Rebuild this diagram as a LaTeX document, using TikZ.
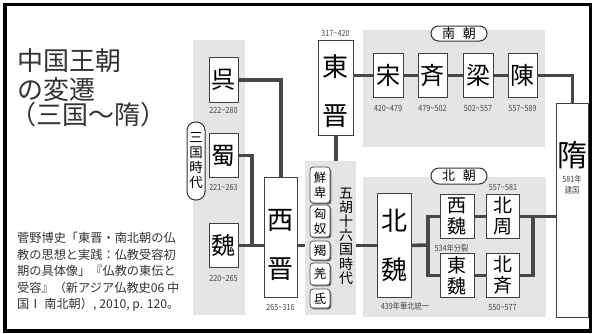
\documentclass[tikz,border=0pt]{standalone}
\usepackage{fontspec}
\usepackage{graphicx}
\setmainfont{Noto Sans CJK JP}
\usetikzlibrary{shadows}
\pgfdeclarelayer{panels}
\pgfdeclarelayer{lines}
\pgfsetlayers{panels,lines,main}
\newcommand\mytil{\textasciitilde}
\newcommand\mycond[1]{\scalebox{0.85}[1]{#1}}
\begin{document}
\begin{tikzpicture}[x=1pt,y=-1pt,
  panel/.style={fill=black!10, draw=none, inner sep=0, anchor=north west},
  box/.style={draw=black!75, line width=0.9pt, fill=white, inner sep=0, anchor=north west, align=center},
  fbig/.style={font=\fontsize{24}{24}\selectfont},
  ftwo/.style={font=\fontsize{26}{49}\selectfont, align=center, inner sep=0},
  fmid/.style={font=\fontsize{19}{21}\selectfont},
  datelbl/.style={font=\fontsize{8.5}{9}\selectfont, text=black!72, inner sep=0},
  pill/.style={draw=black!80, line width=1pt, fill=white, inner sep=0, align=center},
  tribe/.style={draw=black!70, line width=0.8pt, fill=white, rounded corners=3pt, inner sep=0,
    minimum width=20pt, align=center, font=\fontsize{12.5}{15}\selectfont,
    drop shadow={shadow xshift=1.4pt, shadow yshift=-1.4pt, fill=black!60, opacity=1}},
  conn/.style={line width=3.6pt, draw=black!72},
  titletxt/.style={font=\fontsize{26}{26}\selectfont, text=black!80, inner sep=0, anchor=west}
]
\useasboundingbox (0,0) rectangle (592,333);

% panels
\begin{pgfonlayer}{panels}
\fill[white] (0,0) rectangle (592,333);
\node[panel, minimum width=52pt, minimum height=275pt] (p3k) at (193,40) {};
\node[panel, minimum width=51pt, minimum height=154pt] (pwuhu) at (305,161) {};
\node[panel, minimum width=182pt, minimum height=117pt] (pnan) at (363,30) {};
\node[panel, minimum width=183pt, minimum height=140pt] (pbei) at (363,177) {};
\end{pgfonlayer}

% title
\node[titletxt] (t1) at (17,61) {中国王朝};
\node[titletxt] (t2) at (17,90) {の変遷};
\node[titletxt] (t3) at (10,115) {（三国〜隋）};

% citation
\node[anchor=north west, align=left, inner sep=0, text=black!80,
  font=\fontsize{12.2}{16.5}\selectfont] (cite) at (17,232)
  {菅野博史「東晋・南北朝の仏\\教の思想と実践：仏教受容初\\期の具体像」『仏教の東伝と\\受容』（新アジア仏教史06 中\\国Ⅰ 南北朝）, 2010, p. 120。};

% three kingdoms
\node[box, fbig, minimum width=29pt, minimum height=45pt] (wu) at (209,57) {呉};
\node[box, fbig, minimum width=29pt, minimum height=44pt] (shu) at (209,133) {蜀};
\node[box, fbig, minimum width=29pt, minimum height=44pt] (wei) at (209,223) {魏};
\node[datelbl] (dwu) at (223.5,110) {\mycond{222\mytil280}};
\node[datelbl] (dshu) at (223.5,187) {\mycond{221\mytil263}};
\node[datelbl] (dwei) at (223.5,278) {\mycond{220\mytil265}};
\node[pill, rounded corners=8.5pt, minimum width=18pt, minimum height=78pt,
  font=\fontsize{13.5}{15}\selectfont] (sanguo) at (196,161) {三\\国\\時\\代};

% western / eastern jin
\node[box, minimum width=33pt, minimum height=120pt] (xijin) at (264,177) {};
\node[ftwo] (xijint) at (280.5,245) {西\\晋};
\node[datelbl] (dxijin) at (280.5,307) {\mycond{265\mytil316}};
\node[box, minimum width=35pt, minimum height=95pt] (dongjin) at (318,40) {};
\node[ftwo] (dongjint) at (335.5,91) {東\\晋};
\node[datelbl] (ddongjin) at (335.5,33) {\mycond{317\mytil420}};

% five barbarians
\node[tribe, minimum height=36pt] (xianbei) at (320,185) {鮮\\卑};
\node[tribe, minimum height=32pt] (xiongnu) at (320,221) {匈\\奴};
\node[tribe, minimum height=19pt] (jie) at (320,250.5) {羯};
\node[tribe, minimum height=22pt] (qiang) at (320,274) {羌};
\node[tribe, minimum height=19pt] (di) at (320,298.5) {氐};
\node[font=\fontsize{14}{14.2}\selectfont, align=center, inner sep=0] (wuhu) at (346,236) {五\\胡\\十\\六\\国\\時\\代};

% southern dynasties
\node[pill, rounded corners=7.5pt, minimum width=56pt, minimum height=15pt,
  font=\fontsize{13}{13}\selectfont] (nanchao) at (459,33.5) {南\hspace{0.6em}朝};
\node[box, fbig, minimum width=30pt, minimum height=44pt] (song) at (373,53) {宋};
\node[box, fbig, minimum width=29pt, minimum height=44pt] (qi) at (418,53) {斉};
\node[box, fbig, minimum width=30pt, minimum height=44pt] (liang) at (463,53) {梁};
\node[box, fbig, minimum width=29pt, minimum height=44pt] (chen) at (508,53) {陳};
\node[datelbl] (dsong) at (388,108) {\mycond{420\mytil479}};
\node[datelbl] (dqi) at (432.5,108) {\mycond{479\mytil502}};
\node[datelbl] (dliang) at (478,108) {\mycond{502\mytil557}};
\node[datelbl] (dchen) at (522.5,108) {\mycond{557\mytil589}};

% northern dynasties
\node[pill, rounded corners=8pt, minimum width=56pt, minimum height=16pt,
  font=\fontsize{13}{13}\selectfont] (beichao) at (459,176) {北\hspace{0.6em}朝};
\node[box, minimum width=34pt, minimum height=104pt] (beiwei) at (377,193) {};
\node[ftwo] (beiweit) at (394,245) {北\\魏};
\node[datelbl] (dbeiwei) at (405,306) {\mycond{439年華北統一}};
\node[box, fmid, minimum width=34pt, minimum height=44pt] (xiwei) at (440,194) {西\\魏};
\node[box, fmid, minimum width=34pt, minimum height=44pt] (dongwei) at (440,253) {東\\魏};
\node[box, fmid, minimum width=33pt, minimum height=44pt] (beizhou) at (486,194) {北\\周};
\node[box, fmid, minimum width=33pt, minimum height=44pt] (beiqi) at (486,253) {北\\斉};
\node[datelbl] (dsplit) at (451.5,248) {\mycond{534年分裂}};
\node[datelbl] (dbeizhou) at (503,187) {\mycond{557\mytil581}};
\node[datelbl] (dbeiqi) at (502.5,307) {\mycond{550\mytil577}};

% sui
\node[box, minimum width=32pt, minimum height=214pt] (sui) at (556,103) {};
\node[font=\fontsize{30}{30}\selectfont, inner sep=0] (suit) at (572,155) {隋};
\node[datelbl, align=center, font=\fontsize{8.5}{11}\selectfont] (dsui) at (572,184.5) {\mycond{581年}\\\mycond{建国}};

% connectors
\coordinate (j1) at (252,245);
\coordinate (j2) at (428,245);
\coordinate (j3) at (533,216);
\begin{pgfonlayer}{lines}
\draw[conn] (wu.east) -| (xijin.north);
\draw[conn] (shu.east) -| (j1);
\draw[conn] (wei.east) -- (wei.east -| xijin.west);
\draw[conn] (wei.east -| xijin.east) -- (wei.east -| pwuhu.west);
\draw[conn] (dongjin.south) -- (dongjin.south |- pwuhu.north);
\draw[conn] (song.west -| dongjin.east) -- (song.west);
\draw[conn] (song) -- (qi);
\draw[conn] (qi) -- (liang);
\draw[conn] (liang) -- (chen);
\draw[conn] (chen.east) -| (sui.north);
\draw[conn] (pwuhu.east |- beiwei.west) -- (beiwei.west);
\draw[conn] (beiwei.east) -- (j2);
\draw[conn] (xiwei.west) -| (j2);
\draw[conn] (dongwei.west) -| (j2);
\draw[conn] (xiwei) -- (beizhou);
\draw[conn] (dongwei) -- (beiqi);
\draw[conn] (beizhou.east) -- (beizhou.east -| sui.west);
\draw[conn] (beiqi.east) -| (j3);
\end{pgfonlayer}

% frame
\draw[line width=3.5pt, black] (5,4.5) rectangle (590.5,331);
\end{tikzpicture}
\end{document}
